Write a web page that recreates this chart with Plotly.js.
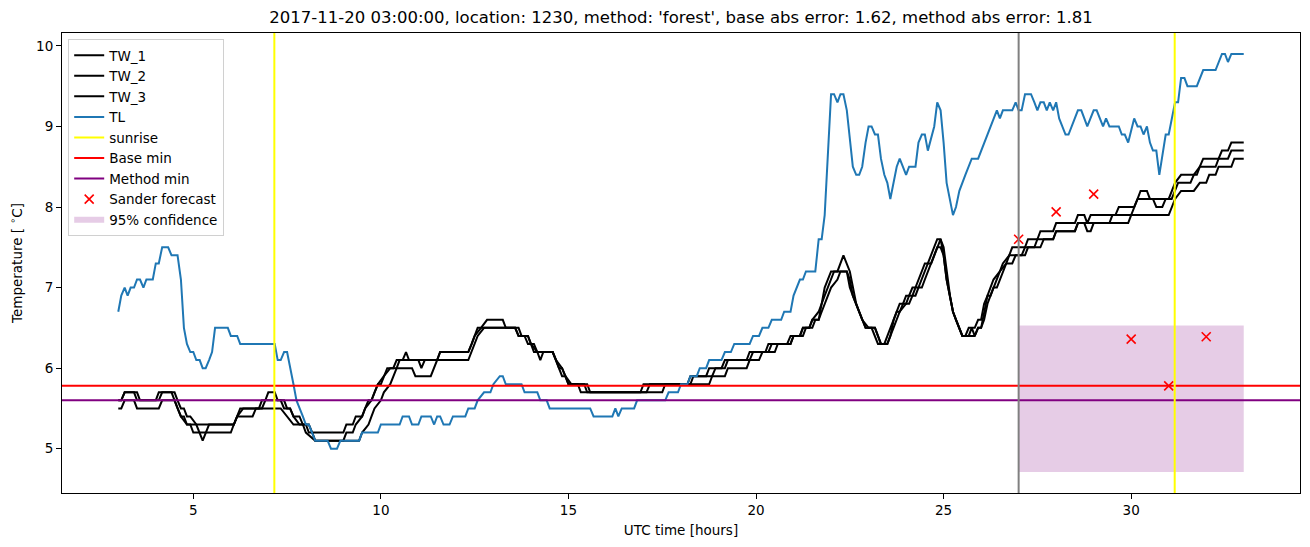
<!DOCTYPE html>
<html>
<head>
<meta charset="utf-8">
<script src="https://cdn.plot.ly/plotly-3.0.1.min.js"></script>
<style>html,body{margin:0;padding:0;background:#fff;}#chart{width:1310px;height:547px;}</style>
</head>
<body>
<div id="chart"></div>
<script>
// ---- data (hour, value) ----
const tlPoints = [
[3.00,6.7],[3.08,6.9],[3.17,7.0],[3.25,6.9],[3.33,7.0],[3.42,7.0],[3.50,7.1],[3.58,7.1],[3.67,7.0],[3.75,7.1],[3.92,7.1],
[4.00,7.3],[4.08,7.3],[4.17,7.5],[4.33,7.5],[4.42,7.4],[4.58,7.4],[4.67,7.1],[4.75,6.5],[4.83,6.3],[4.92,6.2],[5.00,6.2],
[5.08,6.1],[5.17,6.1],[5.25,6.0],[5.33,6.0],[5.42,6.1],[5.50,6.2],[5.58,6.5],[5.92,6.5],[6.00,6.4],[6.17,6.4],[6.25,6.3],
[7.17,6.3],[7.25,6.1],[7.33,6.1],[7.42,6.2],[7.50,6.2],[7.67,5.8],[7.75,5.6],[7.92,5.4],[8.00,5.3],[8.08,5.3],[8.17,5.2],
[8.25,5.1],[8.58,5.1],[8.67,5.0],[8.83,5.0],[8.92,5.1],[9.42,5.1],[9.50,5.2],[9.92,5.2],[10.00,5.3],[10.50,5.3],[10.58,5.4],
[10.75,5.4],[10.83,5.3],[11.00,5.3],[11.08,5.4],[11.33,5.4],[11.42,5.3],[11.50,5.4],[11.58,5.4],[11.67,5.3],[11.83,5.3],
[11.92,5.4],[12.25,5.4],[12.33,5.5],[12.50,5.5],[12.58,5.6],[12.75,5.7],[12.92,5.7],[13.00,5.8],[13.17,5.9],[13.25,5.9],
[13.33,5.8],[13.75,5.8],[13.83,5.7],[14.17,5.7],[14.25,5.6],[14.42,5.6],[14.50,5.5],[15.58,5.5],[15.67,5.4],[16.17,5.4],
[16.25,5.5],[16.33,5.4],[16.42,5.5],[16.75,5.5],[16.83,5.6],[17.58,5.6],[17.67,5.7],[17.92,5.7],[18.00,5.8],[18.17,5.8],
[18.25,5.9],[18.42,5.9],[18.50,6.0],[18.67,6.0],[18.75,6.1],[19.08,6.1],[19.17,6.2],[19.33,6.2],[19.42,6.3],[19.83,6.3],
[19.92,6.4],[20.08,6.4],[20.17,6.5],[20.33,6.5],[20.42,6.6],[20.67,6.6],[20.75,6.7],[20.92,6.7],[21.00,6.9],[21.17,7.1],
[21.25,7.1],[21.33,7.2],[21.58,7.2],[21.67,7.6],[21.75,7.6],[21.83,7.9],[22.00,9.4],[22.08,9.4],[22.17,9.3],[22.25,9.4],
[22.33,9.4],[22.42,9.2],[22.58,8.5],[22.67,8.4],[22.75,8.4],[22.83,8.5],[22.92,8.8],[23.00,9.0],[23.08,9.0],[23.17,8.9],
[23.25,8.9],[23.33,8.6],[23.42,8.4],[23.50,8.3],[23.58,8.1],[23.67,8.3],[23.75,8.5],[23.83,8.6],[23.92,8.5],[24.00,8.4],
[24.08,8.5],[24.25,8.5],[24.33,8.8],[24.42,8.9],[24.50,8.9],[24.58,8.7],[24.75,9.0],[24.83,9.3],[24.92,9.2],[25.00,8.8],
[25.08,8.3],[25.25,7.9],[25.33,8.0],[25.42,8.2],[25.58,8.4],[25.67,8.5],[25.75,8.6],[25.92,8.6],[26.00,8.7],[26.08,8.8],
[26.17,8.9],[26.25,9.0],[26.33,9.1],[26.42,9.2],[26.50,9.1],[26.58,9.2],[26.83,9.2],[26.92,9.3],[27.00,9.2],[27.08,9.2],
[27.17,9.4],[27.33,9.4],[27.42,9.3],[27.50,9.2],[27.58,9.3],[27.67,9.3],[27.75,9.2],[27.83,9.3],[27.92,9.2],[28.00,9.3],
[28.08,9.1],[28.25,8.9],[28.33,8.9],[28.58,9.2],[28.67,9.2],[28.83,9.0],[29.00,9.2],[29.08,9.2],[29.25,9.0],[29.33,9.1],
[29.42,9.0],[29.67,9.0],[29.75,8.9],[29.83,8.9],[29.92,8.8],[30.08,9.1],[30.17,9.0],[30.25,9.0],[30.33,8.9],[30.42,9.0],
[30.50,8.8],[30.58,8.7],[30.67,8.7],[30.75,8.4],[30.92,8.9],[31.00,8.9],[31.17,9.3],[31.25,9.3],[31.33,9.6],[31.42,9.6],
[31.50,9.5],[31.75,9.5],[31.92,9.7],[32.25,9.7],[32.42,9.9],[32.50,9.9],[32.58,9.8],[32.67,9.9],[33.00,9.9]
];

const tw1Points = [
[3.00,5.6],[3.08,5.6],[3.17,5.7],[3.50,5.7],[3.58,5.6],[4.00,5.6],[4.08,5.7],[4.42,5.7],[4.50,5.6],[4.58,5.5],[4.67,5.4],
[4.75,5.4],[4.83,5.3],[6.08,5.3],[6.17,5.4],[6.33,5.5],[6.75,5.5],[6.83,5.6],[6.92,5.6],[7.00,5.7],[7.17,5.7],[7.25,5.6],
[7.42,5.6],[7.50,5.5],[7.58,5.5],[7.67,5.4],[7.83,5.4],[7.92,5.3],[8.08,5.3],[8.17,5.2],[9.00,5.2],[9.08,5.3],[9.25,5.3],
[9.33,5.4],[9.50,5.4],[9.58,5.5],[9.67,5.6],[9.75,5.6],[9.83,5.7],[9.92,5.8],[10.00,5.8],[10.08,5.9],[10.17,6.0],[10.33,6.0],
[10.42,6.1],[10.58,6.1],[10.67,6.2],[10.75,6.1],[11.50,6.1],[11.58,6.2],[12.33,6.2],[12.42,6.3],[12.50,6.4],[12.67,6.5],
[12.83,6.6],[13.25,6.6],[13.33,6.5],[13.58,6.5],[13.67,6.4],[13.83,6.4],[13.92,6.3],[14.00,6.3],[14.08,6.2],[14.17,6.2],
[14.25,6.1],[14.33,6.2],[14.58,6.2],[14.67,6.1],[14.75,6.0],[14.83,6.0],[14.92,5.9],[15.00,5.8],[15.25,5.8],[15.33,5.7],
[16.92,5.7],[17.00,5.8],[18.17,5.8],[18.25,5.9],[18.67,5.9],[18.75,6.0],[19.08,6.0],[19.17,6.1],[19.75,6.1],[19.83,6.2],
[20.25,6.2],[20.33,6.3],[20.83,6.3],[20.92,6.4],[21.17,6.4],[21.25,6.5],[21.42,6.5],[21.50,6.6],[21.67,6.7],[21.75,6.8],
[21.83,7.0],[21.92,7.1],[22.00,7.2],[22.17,7.2],[22.33,7.4],[22.50,7.2],[22.58,7.0],[22.67,6.8],[22.75,6.7],[22.83,6.6],
[22.92,6.5],[23.08,6.5],[23.17,6.4],[23.25,6.3],[23.42,6.3],[23.50,6.4],[23.58,6.5],[23.67,6.6],[23.75,6.7],[23.83,6.8],
[23.92,6.8],[24.00,6.9],[24.08,6.9],[24.17,7.0],[24.25,7.0],[24.33,7.1],[24.42,7.2],[24.50,7.3],[24.58,7.3],[24.67,7.4],
[24.75,7.5],[24.83,7.6],[24.92,7.6],[25.00,7.4],[25.08,7.1],[25.17,6.9],[25.25,6.7],[25.33,6.6],[25.42,6.5],[25.50,6.4],
[25.58,6.4],[25.67,6.5],[25.83,6.5],[25.92,6.6],[26.00,6.6],[26.08,6.8],[26.17,6.9],[26.25,7.0],[26.33,7.1],[26.50,7.2],
[26.58,7.3],[26.75,7.4],[26.83,7.5],[27.17,7.5],[27.25,7.6],[27.50,7.6],[27.58,7.7],[27.92,7.7],[28.00,7.8],[28.50,7.8],
[28.58,7.9],[28.75,7.9],[28.83,7.8],[28.92,7.9],[29.58,7.9],[29.67,8.0],[30.08,8.0],[30.17,8.1],[30.25,8.2],[30.42,8.2],
[30.50,8.1],[31.00,8.1],[31.08,8.2],[31.17,8.3],[31.33,8.4],[31.75,8.4],[31.83,8.5],[31.92,8.6],[32.33,8.6],[32.42,8.7],
[32.58,8.7],[32.67,8.8],[33.00,8.8]
];

const tw2Points = [
[3.00,5.6],[3.08,5.6],[3.17,5.7],[3.42,5.7],[3.50,5.6],[4.08,5.6],[4.17,5.7],[4.50,5.7],[4.58,5.6],[4.67,5.5],[4.75,5.5],
[4.83,5.4],[4.92,5.4],[5.08,5.3],[5.25,5.1],[5.42,5.3],[6.08,5.3],[6.17,5.4],[6.25,5.5],[6.83,5.5],[6.92,5.6],[7.33,5.6],
[7.42,5.5],[7.58,5.5],[7.67,5.4],[7.83,5.3],[8.00,5.3],[8.08,5.2],[8.17,5.2],[8.25,5.1],[9.00,5.1],[9.08,5.2],[9.25,5.2],
[9.33,5.3],[9.50,5.4],[9.58,5.5],[9.75,5.6],[9.83,5.7],[9.92,5.8],[10.08,5.9],[10.25,6.0],[10.42,6.0],[10.50,6.1],[11.00,6.1],
[11.08,6.0],[11.17,6.1],[11.50,6.1],[11.58,6.2],[12.33,6.2],[12.42,6.3],[12.58,6.5],[13.58,6.5],[13.67,6.4],[13.92,6.4],
[14.00,6.3],[14.08,6.3],[14.17,6.2],[14.58,6.2],[14.67,6.1],[14.75,6.0],[14.83,5.9],[14.92,5.9],[15.00,5.8],[15.50,5.8],
[15.58,5.7],[17.08,5.7],[17.17,5.8],[18.25,5.8],[18.33,5.9],[18.83,5.9],[18.92,6.0],[19.17,6.0],[19.25,6.1],[19.83,6.1],
[19.92,6.2],[20.33,6.2],[20.42,6.3],[20.92,6.3],[21.00,6.4],[21.25,6.4],[21.33,6.5],[21.50,6.5],[21.58,6.6],[21.67,6.6],
[21.75,6.8],[21.83,6.9],[21.92,7.0],[22.00,7.1],[22.08,7.2],[22.42,7.2],[22.50,7.0],[22.58,6.9],[22.67,6.8],[22.75,6.7],
[22.83,6.6],[22.92,6.5],[23.17,6.5],[23.25,6.4],[23.33,6.3],[23.50,6.3],[23.58,6.4],[23.67,6.6],[23.75,6.7],[23.83,6.7],
[23.92,6.8],[24.00,6.8],[24.08,6.9],[24.17,6.9],[24.25,7.0],[24.33,7.0],[24.42,7.1],[24.50,7.2],[24.58,7.3],[24.67,7.3],
[24.75,7.4],[24.83,7.5],[24.92,7.6],[25.00,7.5],[25.08,7.2],[25.17,6.9],[25.25,6.7],[25.33,6.6],[25.42,6.5],[25.50,6.4],
[25.67,6.4],[25.75,6.5],[25.83,6.4],[25.92,6.5],[26.00,6.5],[26.08,6.7],[26.17,6.9],[26.25,6.9],[26.33,7.0],[26.42,7.1],
[26.50,7.2],[26.67,7.3],[26.75,7.4],[27.08,7.4],[27.17,7.5],[27.42,7.5],[27.50,7.6],[27.92,7.6],[28.00,7.7],[28.50,7.7],
[28.58,7.8],[28.75,7.8],[28.83,7.7],[28.92,7.7],[29.00,7.8],[29.42,7.8],[29.50,7.9],[30.00,7.9],[30.08,8.0],[30.17,8.1],
[30.58,8.1],[30.67,8.0],[30.83,8.0],[30.92,8.1],[31.08,8.1],[31.17,8.2],[31.25,8.3],[31.58,8.3],[31.67,8.4],[31.83,8.5],
[32.25,8.5],[32.33,8.6],[32.58,8.6],[32.67,8.7],[33.00,8.7]
];

const tw3Points = [
[3.00,5.5],[3.08,5.5],[3.17,5.6],[3.42,5.6],[3.50,5.5],[4.08,5.5],[4.17,5.6],[4.50,5.6],[4.58,5.5],[4.67,5.4],[4.83,5.3],
[4.92,5.3],[5.00,5.2],[6.00,5.2],[6.08,5.3],[6.17,5.4],[6.58,5.4],[6.67,5.5],[7.33,5.5],[7.50,5.4],[7.67,5.3],[7.92,5.3],
[8.00,5.2],[8.25,5.1],[9.42,5.1],[9.50,5.2],[9.67,5.3],[9.75,5.4],[9.83,5.5],[10.00,5.6],[10.08,5.7],[10.25,5.8],[10.33,5.9],
[10.42,6.0],[10.83,6.0],[10.92,5.9],[11.33,5.9],[11.42,6.0],[11.50,6.1],[12.33,6.1],[12.42,6.2],[12.58,6.4],[12.75,6.5],
[13.67,6.5],[13.75,6.4],[13.92,6.4],[14.00,6.3],[14.17,6.2],[14.58,6.2],[14.67,6.1],[14.83,6.0],[14.92,5.9],[15.08,5.8],
[15.42,5.8],[15.50,5.7],[17.50,5.7],[17.58,5.8],[18.75,5.8],[18.83,5.9],[19.17,5.9],[19.25,6.0],[19.75,6.0],[19.83,6.1],
[20.08,6.1],[20.17,6.2],[20.50,6.2],[20.58,6.3],[20.92,6.3],[21.00,6.4],[21.17,6.4],[21.25,6.5],[21.42,6.5],[21.50,6.6],
[21.67,6.6],[21.75,6.7],[21.83,6.8],[21.92,6.9],[22.00,7.0],[22.17,7.1],[22.25,7.2],[22.42,7.2],[22.50,7.1],[22.58,6.9],
[22.67,6.8],[22.75,6.7],[22.83,6.6],[23.00,6.5],[23.17,6.5],[23.25,6.4],[23.33,6.3],[23.50,6.3],[23.58,6.4],[23.67,6.5],
[23.75,6.6],[23.83,6.7],[24.00,6.8],[24.08,6.8],[24.17,6.9],[24.25,6.9],[24.33,7.0],[24.42,7.0],[24.50,7.1],[24.58,7.2],
[24.67,7.3],[24.75,7.4],[24.83,7.5],[24.92,7.5],[25.00,7.4],[25.08,7.1],[25.17,6.9],[25.25,6.7],[25.33,6.6],[25.42,6.5],
[25.50,6.4],[25.83,6.4],[25.92,6.5],[26.00,6.5],[26.08,6.6],[26.17,6.8],[26.33,7.0],[26.42,7.0],[26.50,7.1],[26.58,7.2],
[26.67,7.3],[26.83,7.3],[26.92,7.4],[27.17,7.4],[27.25,7.5],[27.58,7.5],[27.67,7.6],[27.92,7.6],[28.00,7.7],[28.50,7.7],
[28.58,7.8],[29.92,7.8],[30.00,7.9],[31.00,7.9],[31.08,8.0],[31.17,8.1],[31.33,8.2],[31.67,8.2],[31.83,8.3],[32.00,8.3],
[32.08,8.4],[32.25,8.4],[32.33,8.5],[32.67,8.5],[32.75,8.6],[33.00,8.6]
];

const forecastHours = [27, 28, 29, 30, 31, 32];
const forecastValues = [7.60, 7.94, 8.16, 6.36, 5.78, 6.39];
const sunriseHours = [7.16, 31.16];
const forecastStart = 27.0;
const baseMin = 5.78;
const methodMin = 5.6;
const confHours = [27.0, 33.0];
const confLow = 4.71;
const confHigh = 6.53;
const xTicks = [5, 10, 15, 20, 25, 30];
const yTicks = [5, 6, 7, 8, 9, 10];
const titleText = "2017-11-20 03:00:00, location: 1230, method: 'forest', base abs error: 1.62, method abs error: 1.81";

// ---- build traces ----
const xs = p => p.map(d => d[0]);
const ys = p => p.map(d => d[1]);
const LW = 2;

const traces = [
  {x:[confHours[0], confHours[1], confHours[1], confHours[0], confHours[0]],
   y:[confLow, confLow, confHigh, confHigh, confLow],
   type:'scatter', mode:'none', fill:'toself', fillcolor:'rgba(128,0,128,0.2)',
   name:'95% confidence', legendrank:9},
  {x:xs(tw1Points), y:ys(tw1Points), type:'scatter', mode:'lines', line:{color:'black', width:LW}, name:'TW_1', legendrank:1},
  {x:xs(tw2Points), y:ys(tw2Points), type:'scatter', mode:'lines', line:{color:'black', width:LW}, name:'TW_2', legendrank:2},
  {x:xs(tw3Points), y:ys(tw3Points), type:'scatter', mode:'lines', line:{color:'black', width:LW}, name:'TW_3', legendrank:3},
  {x:xs(tlPoints), y:ys(tlPoints), type:'scatter', mode:'lines', line:{color:'#1f77b4', width:LW}, name:'TL', legendrank:4},
  {x:[null], y:[null], type:'scatter', mode:'lines', line:{color:'#ffff00', width:LW}, name:'sunrise', legendrank:5},
  {x:[null], y:[null], type:'scatter', mode:'lines', line:{color:'#ff0000', width:LW}, name:'Base min', legendrank:6},
  {x:[null], y:[null], type:'scatter', mode:'lines', line:{color:'#800080', width:LW}, name:'Method min', legendrank:7},
  {x:forecastHours, y:forecastValues, type:'scatter', mode:'markers',
   marker:{symbol:'x-thin-open', size:9, color:'#ff0000', line:{color:'#ff0000', width:1.6}},
   name:'Sander forecast', legendrank:8}
];

const shapes = [];
shapes.push({type:'line', xref:'paper', yref:'y', x0:0, x1:1, y0:baseMin, y1:baseMin, line:{color:'#ff0000', width:LW}, layer:'above'});
shapes.push({type:'line', xref:'paper', yref:'y', x0:0, x1:1, y0:methodMin, y1:methodMin, line:{color:'#800080', width:LW}, layer:'above'});
shapes.push({type:'line', xref:'x', yref:'paper', x0:forecastStart, x1:forecastStart, y0:0, y1:1, line:{color:'#808080', width:LW}, layer:'above'});
sunriseHours.forEach(h => shapes.push({type:'line', xref:'x', yref:'paper', x0:h, x1:h, y0:0, y1:1, line:{color:'#ffff00', width:LW}, layer:'above'}));

const axisCommon = {
  ticks:'outside', ticklen:5, tickwidth:1, tickcolor:'black',
  showline:true, mirror:true, linecolor:'black', linewidth:1,
  showgrid:false, zeroline:false, tickfont:{size:13.5, color:'black'}
};

const layout = {
  width:1310, height:547,
  margin:{l:62, r:10, t:33, b:54},
  paper_bgcolor:'white', plot_bgcolor:'white',
  font:{family:'DejaVu Sans, sans-serif', size:13.5, color:'black'},
  title:{text:titleText, font:{size:16.5, color:'black'}, x:0.5, xref:'paper', xanchor:'center',
         y:1-17/547, yref:'container', yanchor:'middle'},
  xaxis:Object.assign({}, axisCommon, {range:[1.5, 34.5], tickvals:xTicks,
         title:{text:'UTC time [hours]', standoff:8, font:{size:13.5}}}),
  yaxis:Object.assign({}, axisCommon, {range:[4.45, 10.16], tickvals:yTicks,
         title:{text:'Temperature [ <sup>∘</sup>C]', standoff:10, font:{size:13.5}}}),
  legend:{x:0.005, y:0.987, xanchor:'left', yanchor:'top', bgcolor:'rgba(255,255,255,0.8)',
          bordercolor:'#d0d0d0', borderwidth:1, font:{size:13.5}, tracegroupgap:0},
  showlegend:true,
  shapes:shapes
};

Plotly.newPlot('chart', traces, layout, {displayModeBar:false, staticPlot:true});
</script>
</body>
</html>
